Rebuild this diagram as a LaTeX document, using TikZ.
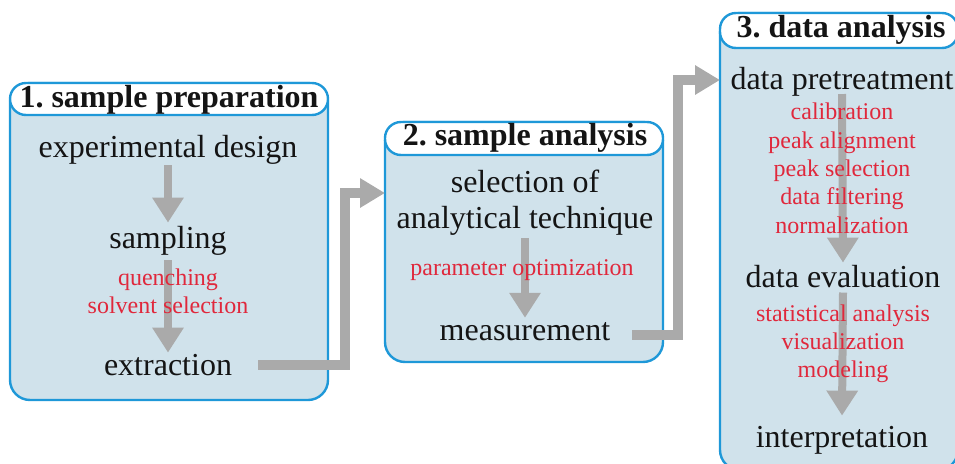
\documentclass[tikz,border=0pt]{standalone}
\usepackage{fontspec}
\setmainfont{Liberation Serif}
\usetikzlibrary{arrows.meta}
\frenchspacing

\definecolor{panelfill}{RGB}{208,226,235}
\definecolor{panelline}{RGB}{30,152,216}
\definecolor{subred}{RGB}{224,40,60}
\definecolor{flowgray}{RGB}{170,170,170}
\definecolor{inktext}{RGB}{20,20,20}

\begin{document}
\begin{tikzpicture}[x=1pt,y=-1pt,
  panel/.style={draw=panelline, line width=2.4pt, fill=panelfill, rounded corners=20pt},
  pill/.style={draw=panelline, line width=2.4pt, fill=white, rounded corners=16pt},
  title/.style={font=\fontsize{32}{34}\selectfont\bfseries, text=inktext, inner sep=0pt, anchor=base},
  stage/.style={font=\fontsize{32}{34}\selectfont, text=inktext, inner sep=0pt, anchor=base},
  sub/.style={font=\fontsize{24}{26}\selectfont, text=subred, inner sep=0pt, anchor=base},
  flow/.style={draw=flowgray, line width=8pt, -{Triangle[width=30pt,length=25pt]}},
  link/.style={draw=flowgray, line width=10pt, line join=miter, -{Triangle[width=28pt,length=25pt]}}]

\clip (0,0) rectangle (955,463);

% ---- panels with their title bars ----
\draw[panel] (10,83) rectangle (328,400);
\draw[pill]  (10,83) rectangle (328,115);
\draw[panel] (385,122) rectangle (663,362);
\draw[pill]  (385,122) rectangle (663,155);
\draw[panel] (720,13) rectangle (958,470);
\draw[pill]  (720,13) rectangle (958,48);

% ---- panel 1: sample preparation ----
\node[title] (t1) at (169,107) {1. sample preparation};
\node[stage] (ed)   at (168,157) {experimental design};
\node[stage] (samp) at (168,248) {sampling};
\node[stage] (ext)  at (168,375) {extraction};
\draw[flow] ([yshift=-1pt]ed.south) -- ([yshift=3pt]samp.north);
\draw[flow] ([yshift=-5pt]samp.south) -- ([yshift=1pt]ext.north);
\node[sub] (q1) at (168,285) {quenching};
\node[sub] (q2) at (168,313) {solvent selection};

% ---- panel 2: sample analysis ----
\node[title] (t2) at (525,145) {2. sample analysis};
\node[stage] (sel1) at (525,192) {selection of};
\node[stage] (sel2) at (525,228) {analytical technique};
\node[stage] (meas) at (525,340) {measurement};
\draw[flow] ([yshift=-3pt]sel2.south) -- ([yshift=4pt]meas.north);
\node[sub] (po) at (522,275) {parameter optimization};

% ---- panel 3: data analysis ----
\node[title] (t3) at (841,37) {3. data analysis};
\node[stage] (pre)  at (842,89) {data pretreatment};
\node[stage] (eval) at (843,287) {data evaluation};
\node[stage] (intp) at (842,447) {interpretation};
\draw[flow] ([yshift=2pt]pre.south) -- ([yshift=2pt]eval.north);
\draw[flow] ([yshift=-5pt]eval.south) -- ([yshift=10pt]intp.north);
\node[sub] (c1) at (842,119) {calibration};
\node[sub] (c2) at (842,148) {peak alignment};
\node[sub] (c3) at (842,176) {peak selection};
\node[sub] (c4) at (842,204) {data filtering};
\node[sub] (c5) at (842,233) {normalization};
\node[sub] (e1) at (843,321) {statistical analysis};
\node[sub] (e2) at (843,349) {visualization};
\node[sub] (e3) at (843,377) {modeling};

% ---- links between the panels ----
\coordinate (o1) at (258,365);
\coordinate (j1) at (345,365);
\coordinate (k1) at (345,193);
\coordinate (in2) at (385,193);
\draw[link] (o1) -- (j1) -- (k1) -- (in2);

\coordinate (o2) at (632,335);
\coordinate (j2) at (678,335);
\coordinate (k2) at (678,80);
\coordinate (in3) at (720,80);
\draw[link] (o2) -- (j2) -- (k2) -- (in3);
\end{tikzpicture}
\end{document}
